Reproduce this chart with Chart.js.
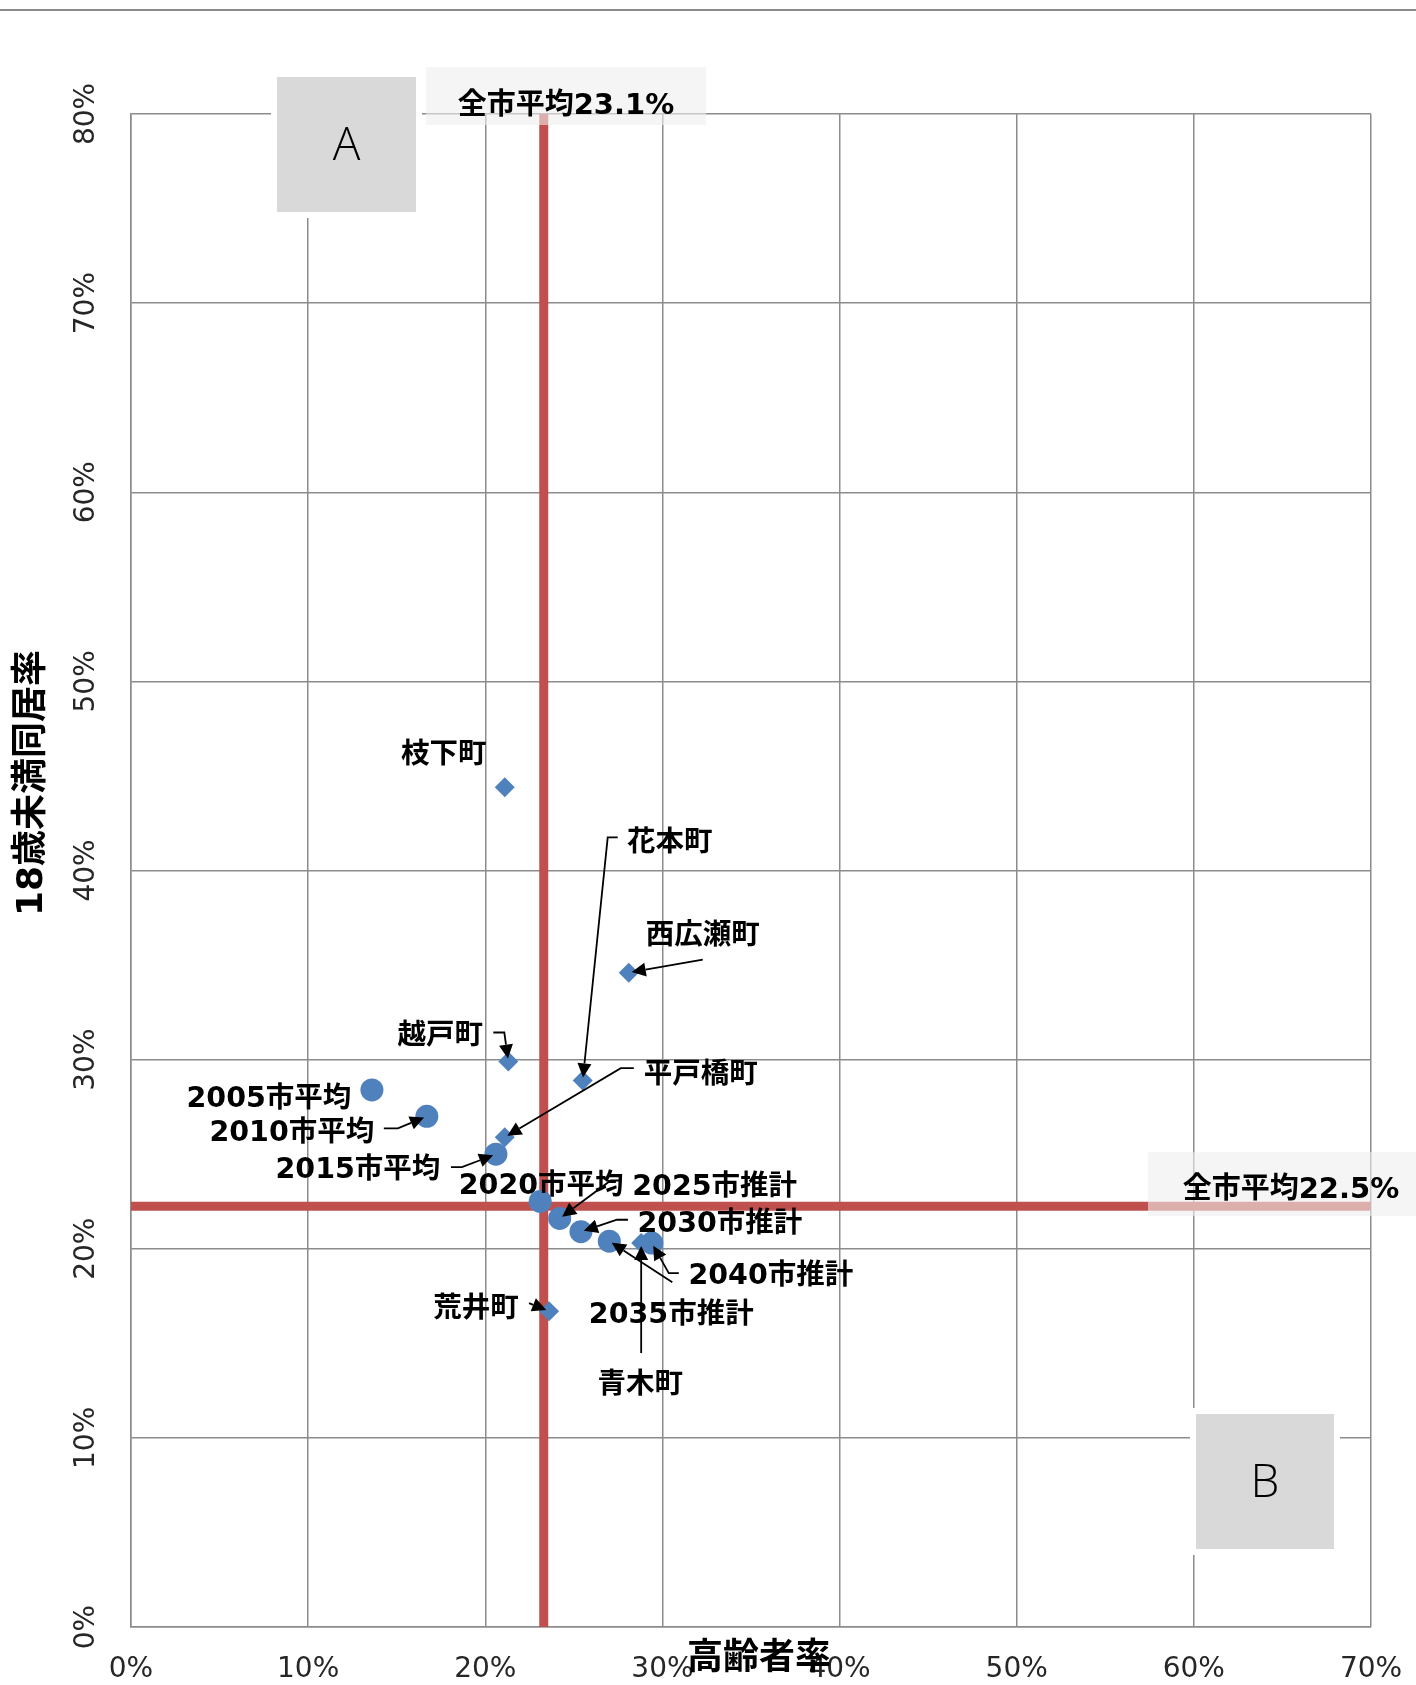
<!DOCTYPE html>
<html>
<head>
<meta charset="utf-8">
<script src="https://cdn.jsdelivr.net/npm/chart.js@4.4.1/dist/chart.umd.min.js"></script>
<style>
  body { margin: 0; background: #fff; }
  canvas { display: block; }
</style>
</head>
<body>
<canvas id="chart" width="1416" height="1685"></canvas>
<script>
// 市平均（年次）
const cityNames = ['2005市平均', '2010市平均', '2015市平均', '2020市平均', '2025市推計', '2030市推計', '2035市推計', '2040市推計'];
const cityAging = [13.6, 16.7, 20.6, 23.1, 24.2, 25.4, 27.0, 29.4];
const cityChild = [28.4, 27.0, 25.0, 22.5, 21.6, 20.9, 20.4, 20.3];

// 町別
const townNames = ['枝下町', '西広瀬町', '越戸町', '花本町', '平戸橋町', '青木町', '荒井町'];
const townAging = [21.1, 28.1, 21.3, 25.5, 21.1, 28.8, 23.6];
const townChild = [44.4, 34.6, 29.9, 28.9, 25.9, 20.3, 16.7];

// 全市平均ライン
const avgAging = 23.3;
const avgChild = 22.25;
const avgAgingLabel = '全市平均23.1%';
const avgChildLabel = '全市平均22.5%';

const xTicks = [0, 10, 20, 30, 40, 50, 60, 70];
const yTicks = [0, 10, 20, 30, 40, 50, 60, 70, 80];

const BLUE = '#4f81bd';
const RED = '#c0504d';
const GRID = '#8c8c8c';
const LABEL_FONT = "bold 28.5px 'DejaVu Sans', 'Noto Sans CJK JP'";

// label placement: text centre offset from the point, then leader points (also offsets)
const callouts = {
    '枝下町': {text: [-61, -32]},
    '西広瀬町': {text: [74, -36], path: [[74, -13]]},
    '越戸町': {text: [-68, -25], path: [[-15, -29], [-4, -29]]},
    '花本町': {text: [87, -237], path: [[35, -243], [25, -243]]},
    '平戸橋町': {text: [196, -62], path: [[129, -69], [116, -69]]},
    '青木町': {text: [-1, 143], path: [[0, 110]]},
    '荒井町': {text: [-73, -2], path: [[-20, -8]]},
    '2005市平均': {text: [-103, 10]},
    '2010市平均': {text: [-135, 17], path: [[-43, 12], [-29, 12]]},
    '2015市平均': {text: [-138, 16], path: [[-45, 13], [-34, 13]]},
    '2020市平均': {text: [1, -15]},
    '2025市推計': {text: [155, -31], path: [[61, -38], [51, -38]]},
    '2030市推計': {text: [139, -7], path: [[47, -12], [36, -12]]},
    '2035市推計': {text: [62, 74], path: [[63, 41]]},
    '2040市推計': {text: [119, 34], path: [[27, 30], [17, 30]]}
};

function arrow(ctx, pts) {
    const n = pts.length;
    let [tx, ty] = pts[n - 1];
    const [px, py] = pts[n - 2];
    const ang = Math.atan2(ty - py, tx - px);
    tx -= Math.cos(ang) * 3;
    ty -= Math.sin(ang) * 3;
    const head = 14, half = 7;
    const bx = tx - Math.cos(ang) * head, by = ty - Math.sin(ang) * head;
    ctx.beginPath();
    ctx.moveTo(pts[0][0], pts[0][1]);
    for (let i = 1; i < n - 1; i++) ctx.lineTo(pts[i][0], pts[i][1]);
    ctx.lineTo(bx, by);
    ctx.stroke();
    ctx.beginPath();
    ctx.moveTo(tx, ty);
    ctx.lineTo(bx + Math.sin(ang) * half, by - Math.cos(ang) * half);
    ctx.lineTo(bx - Math.sin(ang) * half, by + Math.cos(ang) * half);
    ctx.closePath();
    ctx.fill();
}

function quadrantBox(ctx, x1, y1, x2, y2, letter) {
    ctx.fillStyle = '#fff';
    ctx.fillRect(x1 - 6, y1 - 6, x2 - x1 + 12, y2 - y1 + 12);
    ctx.fillStyle = '#d9d9d9';
    ctx.fillRect(x1, y1, x2 - x1, y2 - y1);
    ctx.fillStyle = '#000';
    ctx.font = "300 46px 'Open Sans', Lato, sans-serif";
    ctx.textAlign = 'center';
    ctx.textBaseline = 'middle';
    ctx.fillText(letter, (x1 + x2) / 2, (y1 + y2) / 2 + 2);
}

const overlay = {
    id: 'overlay',
    afterDatasetsDraw(chart) {
        const ctx = chart.ctx;
        const xs = chart.scales.x, ys = chart.scales.y;
        ctx.save();

        // top rule
        ctx.fillStyle = '#8c8c8c';
        ctx.fillRect(0, 9, 1416, 2);

        // average labels
        ctx.fillStyle = 'rgba(238,238,238,0.6)';
        ctx.fillRect(426, 67, 280, 58);
        const hy = ys.getPixelForValue(avgChild);
        ctx.fillRect(1148, hy - 54, 268, 64);
        ctx.fillStyle = '#000';
        ctx.font = "bold 29px 'DejaVu Sans', 'Noto Sans CJK JP'";
        ctx.textAlign = 'center';
        ctx.textBaseline = 'middle';
        ctx.fillText(avgAgingLabel, 566, 106);
        ctx.fillText(avgChildLabel, 1291, hy - 16);

        quadrantBox(ctx, 277, 77, 416, 212, 'A');
        quadrantBox(ctx, 1196, 1414, 1334, 1549, 'B');

        // callouts
        ctx.font = LABEL_FONT;
        ctx.fillStyle = '#000';
        ctx.strokeStyle = '#000';
        ctx.lineWidth = 1.8;
        const place = (name, xv, yv) => {
            const c = callouts[name];
            const px = xs.getPixelForValue(xv), py = ys.getPixelForValue(yv);
            ctx.fillText(name, px + c.text[0], py + c.text[1]);
            if (c.path) {
                const pts = c.path.map(p => [px + p[0], py + p[1]]);
                pts.push([px, py]);
                arrow(ctx, pts);
            }
        };
        townNames.forEach((n, i) => place(n, townAging[i], townChild[i]));
        cityNames.forEach((n, i) => place(n, cityAging[i], cityChild[i]));
        ctx.restore();
    },
    afterDraw(chart) {
        const ctx = chart.ctx;
        const ys = chart.scales.y;
        ctx.save();
        // y tick labels, rotated
        ctx.fillStyle = '#262626';
        ctx.font = "28px 'DejaVu Sans'";
        ctx.textAlign = 'center';
        ctx.textBaseline = 'middle';
        ys.ticks.forEach(t => {
            ctx.save();
            ctx.translate(87, ys.getPixelForValue(t.value));
            ctx.rotate(-Math.PI / 2);
            ctx.fillText(t.value + '%', 0, 0);
            ctx.restore();
        });
        // axis titles
        ctx.fillStyle = '#000';
        ctx.font = "bold 36px 'DejaVu Sans', 'Noto Sans CJK JP'";
        ctx.fillText('高齢者率', 759, 1660);
        ctx.translate(33, 783);
        ctx.rotate(-Math.PI / 2);
        ctx.fillText('18歳未満同居率', 0, 0);
        ctx.restore();
    }
};

new Chart(document.getElementById('chart'), {
    type: 'scatter',
    data: {
        datasets: [
            {
                label: '市平均',
                data: cityAging.map((v, i) => ({x: v, y: cityChild[i]})),
                backgroundColor: BLUE,
                borderWidth: 0,
                pointRadius: 11.5,
                order: 1
            },
            {
                label: '町別',
                data: townAging.map((v, i) => ({x: v, y: townChild[i]})),
                backgroundColor: BLUE,
                borderWidth: 0,
                pointStyle: 'rectRot',
                pointRadius: 10,
                order: 1
            },
            {
                type: 'line',
                label: 'avgX',
                data: [{x: avgAging, y: 0}, {x: avgAging, y: 80}],
                borderColor: RED,
                borderWidth: 9,
                pointRadius: 0,
                clip: false,
                order: 5
            },
            {
                type: 'line',
                label: 'avgY',
                data: [{x: 0, y: avgChild}, {x: 70, y: avgChild}],
                borderColor: RED,
                borderWidth: 9,
                pointRadius: 0,
                clip: false,
                order: 5
            }
        ]
    },
    options: {
        responsive: false,
        animation: false,
        devicePixelRatio: 1,
        layout: {padding: {top: 114, right: 45, left: 0, bottom: 0}},
        plugins: {legend: {display: false}, tooltip: {enabled: false}},
        scales: {
            x: {
                type: 'linear',
                min: 0, max: 70,
                afterBuildTicks: s => { s.ticks = xTicks.map(v => ({value: v})); },
                afterFit: s => { s.height = 58; s.paddingLeft = 0; s.paddingRight = 0; },
                grid: {color: GRID, lineWidth: 1.5, drawTicks: false},
                border: {color: GRID, width: 1.5},
                ticks: {
                    padding: 26,
                    color: '#262626',
                    font: {family: 'DejaVu Sans', size: 28},
                    maxRotation: 0,
                    callback: v => v + '%'
                }
            },
            y: {
                type: 'linear',
                min: 0, max: 80,
                afterBuildTicks: s => { s.ticks = yTicks.map(v => ({value: v})); },
                afterFit: s => { s.width = 131; s.paddingTop = 0; s.paddingBottom = 0; },
                grid: {color: GRID, lineWidth: 1.5, drawTicks: false},
                border: {color: GRID, width: 1.5},
                ticks: {display: false}
            }
        }
    },
    plugins: [overlay]
});
</script>
</body>
</html>
